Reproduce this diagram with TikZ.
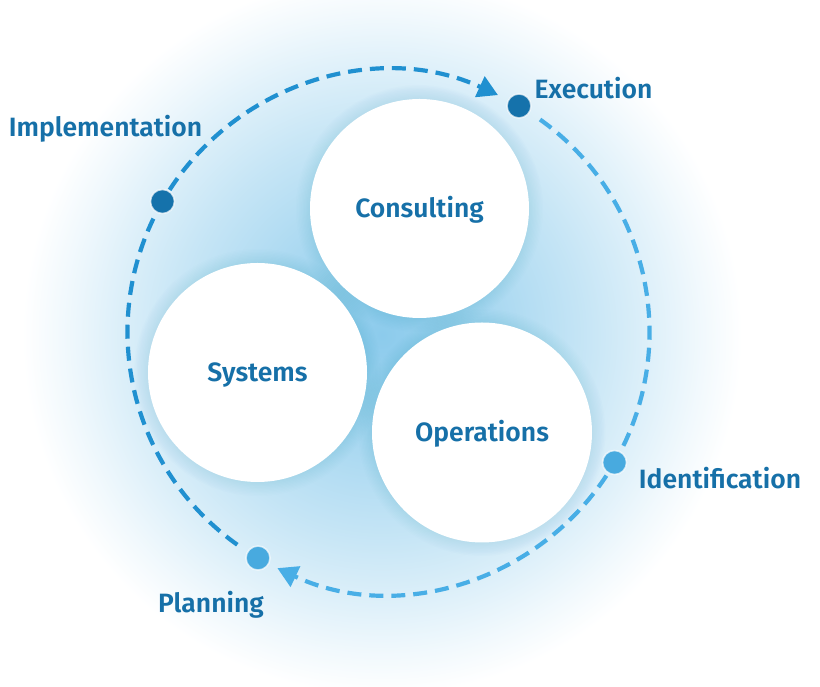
\documentclass[tikz,border=0pt]{standalone}
\usepackage{fontspec}
\setmainfont{Fira Sans}[BoldFont={Fira Sans SemiBold}]
\usetikzlibrary{arrows.meta}

\definecolor{textblue}{HTML}{1670A8}
\definecolor{darkdot}{HTML}{1572AB}
\definecolor{lightdot}{HTML}{48AADF}
\definecolor{arcdark}{HTML}{2090D0}
\definecolor{arclight}{HTML}{48AEE6}
\definecolor{glowblue}{HTML}{8CCBEC}
\pgfdeclareradialshading{glow}{\pgfpoint{0bp}{0bp}}{color(0bp)=(glowblue); color(7bp)=(glowblue!78!white); color(14bp)=(glowblue!50!white); color(18.2bp)=(glowblue!31!white); color(22.2bp)=(glowblue!12!white); color(25bp)=(white); color(50bp)=(white)}

\begin{document}
\begin{tikzpicture}[x=1pt,y=1pt,
    lbl/.style={font=\bfseries\fontsize{26.5}{26.5}\selectfont, text=textblue, anchor=base, inner sep=0pt},
    bubble/.style={circle, fill=white, inner sep=0pt, text depth=0pt, text height=18pt,
      font=\bfseries\fontsize{26.5}{26.5}\selectfont, text=textblue},
    dot/.style={circle, minimum size=24pt, inner sep=0pt, draw=white, draw opacity=0.7, line width=1.5pt},
    loop/.style={line width=4.2pt, dash pattern=on 14pt off 8pt},
    tip/.style={-{Triangle[length=20pt,width=22pt]}}]
  \useasboundingbox (0,0) rectangle (820,687);
  % Glow
  \shade[shading=glow] (382,352) circle (360);
  % Centre of the loop
  \coordinate (O) at (388.5,355);
  % Soft shadows under the bubbles
  \foreach \p in {(419.5,478.5),(257.5,314.5),(482,254.5)}
    \foreach \k in {1,...,10}
      \fill[arcdark, opacity=0.012] \p circle (109.5+\k*1.4);
  % Bubbles
  \node[bubble, minimum size=219pt] (con) at (419.5,478.5) {Consulting};
  \node[bubble, minimum size=219pt] (sys) at (257.5,314.5) {Systems};
  \node[bubble, minimum size=220pt] (ops) at (482,254.5) {Operations};
  % Loop arcs
  \draw[loop, arcdark, tip] ([shift={(147:261)}]O) arc[start angle=147, end angle=65.2, radius=261];
  \draw[loop, arclight] ([shift={(54.5:261)}]O) arc[start angle=54.5, end angle=-26, radius=261];
  \draw[loop, arclight, tip] ([shift={(-33.4:261)}]O) arc[start angle=-33.4, end angle=-115.2, radius=261];
  \draw[loop, arcdark] ([shift={(234.6:261)}]O) arc[start angle=234.6, end angle=153, radius=261];
  % Dots
  \node[dot, fill=darkdot] (exe) at ([shift={(60:261)}]O) {};
  \node[dot, fill=darkdot] (imp) at ([shift={(150:261)}]O) {};
  \node[dot, fill=lightdot] (ide) at ([shift={(-30:261)}]O) {};
  \node[dot, fill=lightdot] (pla) at ([shift={(240:261)}]O) {};
  % Stage labels
  \node[lbl] (exetext) at (593.5,588.7) {Execution};
  \node[lbl] (imptext) at (105.5,550) {Implementation};
  \node[lbl] (idetext) at (720,198.7) {Identification};
  \node[lbl] (platext) at (211,74) {Planning};
\end{tikzpicture}
\end{document}
